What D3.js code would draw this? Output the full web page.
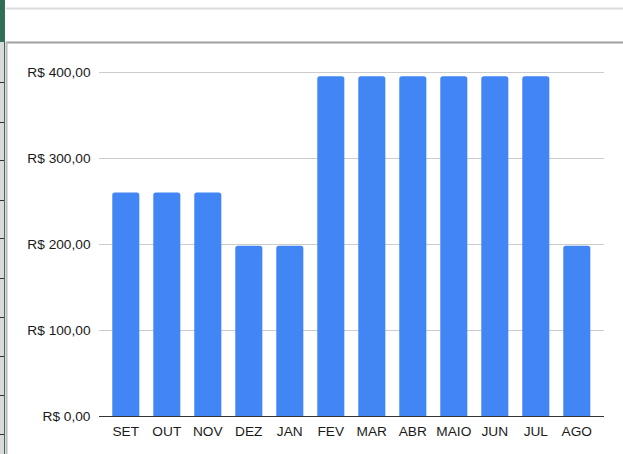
<!DOCTYPE html>
<html>
<head>
<meta charset="utf-8">
<script src="https://cdn.jsdelivr.net/npm/d3@7"></script>
<style>
  html, body { margin: 0; padding: 0; background: #fff; }
  svg { display: block; }
  text { font-family: "Liberation Sans", Arial, sans-serif; }
</style>
</head>
<body>
<svg id="chart" width="623" height="454"></svg>
<script>
const months = ["SET","OUT","NOV","DEZ","JAN","FEV","MAR","ABR","MAIO","JUN","JUL","AGO"];
const values = [260, 260, 260, 198, 198, 395, 395, 395, 395, 395, 395, 198];
const yTicks = [0, 100, 200, 300, 400];
const tickLabels = ["R$ 0,00","R$ 100,00","R$ 200,00","R$ 300,00","R$ 400,00"];
const rowLines = [82, 122, 160, 200, 238, 278, 317, 356, 395, 434];

const svg = d3.select("#chart");

// spreadsheet frame decorations
svg.append("rect").attr("x", 0).attr("y", 42).attr("width", 4).attr("height", 412).attr("fill", "#dadada");
svg.append("rect").attr("x", 0).attr("y", 0).attr("width", 4).attr("height", 42).attr("fill", "#2f6f55");
svg.append("line").attr("x1", 4.5).attr("x2", 4.5).attr("y1", 0).attr("y2", 454).attr("stroke", "#3d6b58").attr("stroke-width", 1);
svg.selectAll("line.row").data(rowLines).join("line")
  .attr("x1", 0).attr("x2", 4).attr("y1", d => d + 0.5).attr("y2", d => d + 0.5)
  .attr("stroke", "#333").attr("stroke-width", 1);
svg.append("line").attr("x1", 6).attr("x2", 623).attr("y1", 8.5).attr("y2", 8.5).attr("stroke", "#dcdcdc").attr("stroke-width", 2);
svg.append("line").attr("x1", 6).attr("x2", 623).attr("y1", 42.5).attr("y2", 42.5).attr("stroke", "#a0a0a0").attr("stroke-width", 2);
svg.append("line").attr("x1", 6.5).attr("x2", 6.5).attr("y1", 42).attr("y2", 454).attr("stroke", "#b8b8b8").attr("stroke-width", 2);

const x = d3.scaleBand().domain(months).range([105.3, 597.3]).paddingInner(0.34).paddingOuter(0.17);
const y = d3.scaleLinear().domain([0, 400]).range([416, 72]);
const gridX0 = 99, gridX1 = 604;

// gridlines
svg.append("g").selectAll("line").data(yTicks.filter(d => d > 0)).join("line")
  .attr("x1", gridX0).attr("x2", gridX1)
  .attr("y1", d => Math.round(y(d)) + 0.5).attr("y2", d => Math.round(y(d)) + 0.5)
  .attr("stroke", "#cccccc").attr("stroke-width", 1);

// y tick labels
svg.append("g").selectAll("text").data(yTicks).join("text")
  .attr("x", 90.5).attr("y", d => y(d)).attr("dy", "0.35em")
  .attr("text-anchor", "end").attr("font-size", "13.7px").attr("fill", "#1a1a1a")
  .text((d, i) => tickLabels[i]);

// bars with rounded top corners
const r = 2.5;
svg.append("g").selectAll("path").data(months).join("path")
  .attr("fill", "#4285f4")
  .attr("d", (m, i) => {
    const x0 = x(m), w = x.bandwidth(), yt = y(values[i]), yb = y(0);
    return `M${x0},${yb} L${x0},${yt + r} Q${x0},${yt} ${x0 + r},${yt} L${x0 + w - r},${yt} Q${x0 + w},${yt} ${x0 + w},${yt + r} L${x0 + w},${yb} Z`;
  });

// baseline
svg.append("line").attr("x1", gridX0).attr("x2", gridX1)
  .attr("y1", Math.round(y(0)) + 0.5).attr("y2", Math.round(y(0)) + 0.5)
  .attr("stroke", "#333").attr("stroke-width", 1);

// x labels
svg.append("g").selectAll("text").data(months).join("text")
  .attr("x", d => x(d) + x.bandwidth() / 2).attr("y", 431).attr("dy", "0.35em")
  .attr("text-anchor", "middle").attr("font-size", "13.7px").attr("fill", "#1a1a1a")
  .text(d => d);
</script>
</body>
</html>
